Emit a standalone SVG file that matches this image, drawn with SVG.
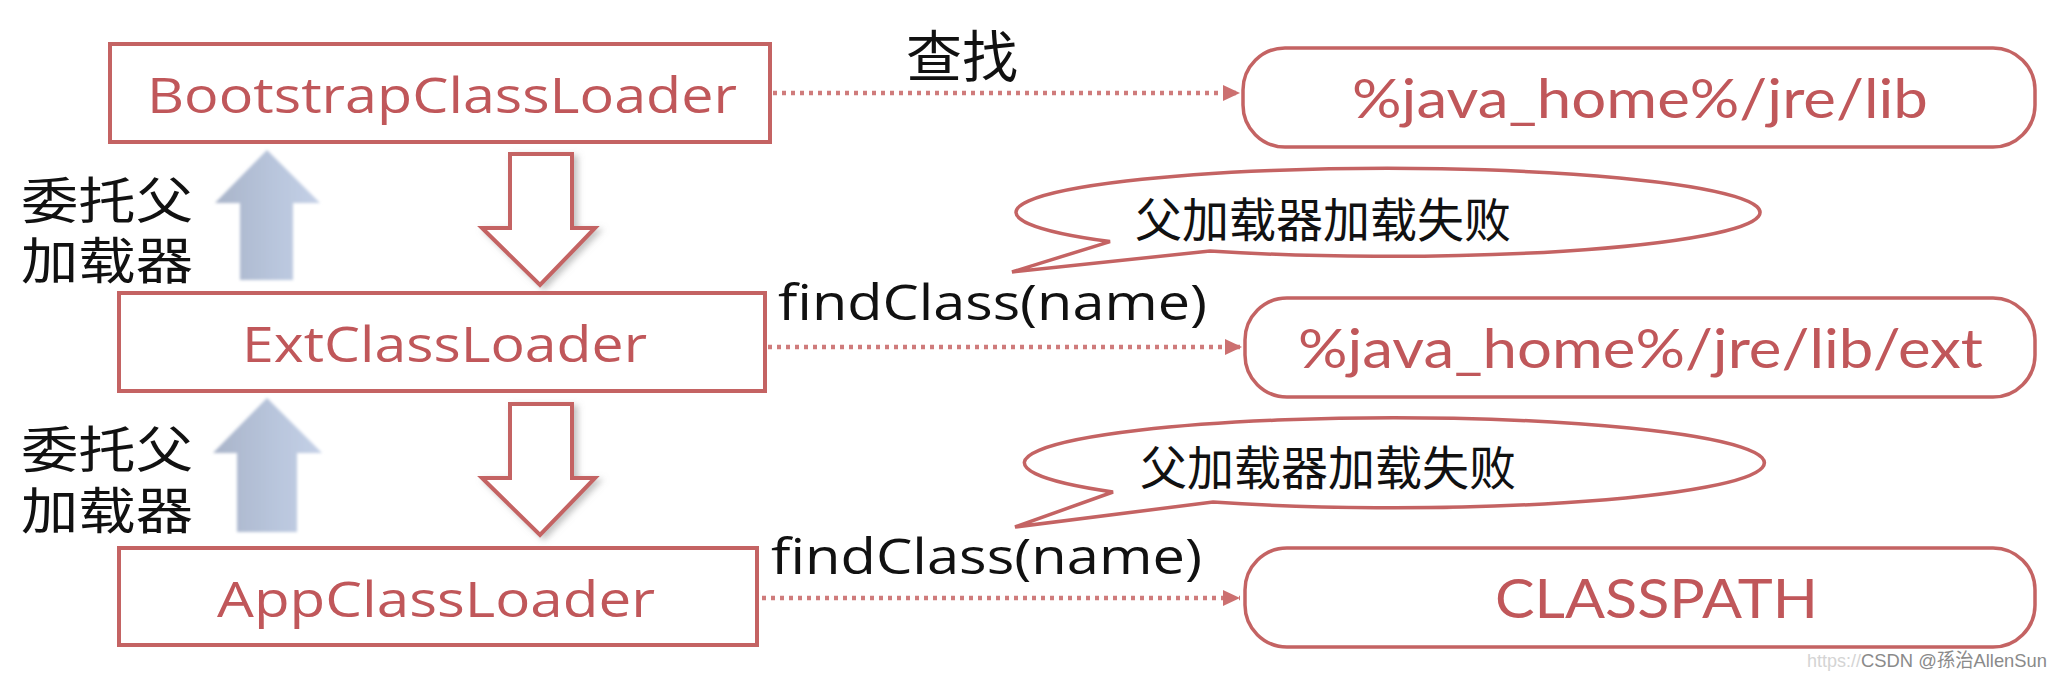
<svg xmlns="http://www.w3.org/2000/svg" width="2062" height="680" viewBox="0 0 2062 680">
<style>
.box{fill:#fff;stroke:#c46363;stroke-width:4}
.rbox{fill:#fff;stroke:#c46363;stroke-width:3.5}
.ltxt{font-family:"Open Sans","Noto Sans",sans-serif;font-size:50px;fill:#c0575a}
.rtxt{font-family:Lato,"Open Sans",sans-serif;font-size:54px;fill:#c0575a}
.blk{font-family:"Open Sans","Noto Sans",sans-serif;font-size:50px;fill:#111}
.cjk{font-family:"Noto Sans CJK SC",sans-serif;fill:#111}
.side{font-family:"Noto Sans CJK SC",sans-serif;fill:#111;font-size:50px}
.dot{stroke:#cf7b7b;stroke-width:4.5;stroke-dasharray:4 5;fill:none}
.bub{fill:#fff;stroke:#c46363;stroke-width:3.5;stroke-linejoin:miter}
.hollow{fill:#fff;stroke:#c46363;stroke-width:4;stroke-linejoin:miter}
.blue{fill:url(#bg)}
</style>
<defs>
<marker id="ah" markerUnits="userSpaceOnUse" markerWidth="18" markerHeight="18" refX="17" refY="8" orient="auto">
<path d="M0,0 L17,8 L0,16 z" fill="#cc7070"/>
</marker>
<linearGradient id="bg" x1="0" y1="0" x2="1" y2="0">
<stop offset="0" stop-color="#a9b4c9"/>
<stop offset="0.6" stop-color="#b9c6dd"/>
<stop offset="1" stop-color="#c4d0e6"/>
</linearGradient>
<filter id="soft" x="-20%" y="-20%" width="140%" height="140%">
<feGaussianBlur stdDeviation="1.5"/>
</filter>
<filter id="shd" x="-20%" y="-20%" width="150%" height="150%">
<feDropShadow dx="4" dy="3" stdDeviation="3" flood-color="#888" flood-opacity="0.5"/>
</filter>
</defs>
<rect width="2062" height="680" fill="#fff"/>

<g id="connectors">
<line class="dot" x1="773" y1="93" x2="1240" y2="93" marker-end="url(#ah)"/>
<line class="dot" x1="768" y1="347" x2="1242" y2="347" marker-end="url(#ah)"/>
<line class="dot" x1="762" y1="598" x2="1240" y2="598" marker-end="url(#ah)"/>
<polygon id="down1" class="hollow" filter="url(#shd)" points="510,154 572,154 572,228 595,228 540,285 482,228 510,228"/>
<polygon id="down2" class="hollow" filter="url(#shd)" points="510,404 572,404 572,478 595,478 540,535 482,478 510,478"/>
<polygon id="up1" class="blue" filter="url(#soft)" points="267,150 320,203 293,203 293,280 240,280 240,203 215,203"/>
<polygon id="up2" class="blue" filter="url(#soft)" points="267,398 322,453 297,453 297,532 237,532 237,453 213,453"/>
</g>

<g id="bootstrap">
<rect class="box" x="110" y="44" width="660" height="98"/>
<text class="ltxt" x="147" y="113" textLength="590" lengthAdjust="spacingAndGlyphs">BootstrapClassLoader</text>
</g>
<g id="ext">
<rect class="box" x="119" y="293" width="646" height="98"/>
<text class="ltxt" x="242" y="362" textLength="405" lengthAdjust="spacingAndGlyphs">ExtClassLoader</text>
</g>
<g id="app">
<rect class="box" x="119" y="548" width="638" height="97"/>
<text class="ltxt" x="217" y="617" textLength="438" lengthAdjust="spacingAndGlyphs">AppClassLoader</text>
</g>

<g id="jrelib">
<rect class="rbox" x="1243" y="48" width="792" height="99" rx="42" ry="42"/>
<text class="rtxt" x="1352" y="118" textLength="576" lengthAdjust="spacingAndGlyphs">%java_home%/jre/lib</text>
</g>
<g id="jreext">
<rect class="rbox" x="1245" y="298" width="790" height="99" rx="42" ry="42"/>
<text class="rtxt" x="1298" y="368" textLength="685" lengthAdjust="spacingAndGlyphs">%java_home%/jre/lib/ext</text>
</g>
<g id="classpath">
<rect class="rbox" x="1245" y="548" width="790" height="99" rx="42" ry="42"/>
<text class="rtxt" x="1495" y="618" textLength="323" lengthAdjust="spacingAndGlyphs">CLASSPATH</text>
</g>

<g id="bubble1">
<path class="bub" d="M1110,241.6 A372,44 0 1 1 1210,251 L1012,272 Z"/>
<text class="cjk" x="1135" y="237" font-size="47">父加载器加载失败</text>
</g>
<g id="bubble2">
<path class="bub" d="M1113,492 A370,45 0 1 1 1213,502 L1015,527 Z"/>
<text class="cjk" x="1140" y="485" font-size="47">父加载器加载失败</text>
</g>

<g id="labels">
<text class="cjk" x="906" y="77" font-size="56">查找</text>
<text class="blk" x="778" y="320" textLength="429" lengthAdjust="spacingAndGlyphs">findClass(name)</text>
<text class="blk" x="771" y="574" textLength="431" lengthAdjust="spacingAndGlyphs">findClass(name)</text>
<text class="side"><tspan x="21" y="219" textLength="172" lengthAdjust="spacingAndGlyphs">委托父</tspan><tspan x="21" y="279" textLength="172" lengthAdjust="spacingAndGlyphs">加载器</tspan></text>
<text class="side"><tspan x="21" y="468" textLength="172" lengthAdjust="spacingAndGlyphs">委托父</tspan><tspan x="21" y="529" textLength="172" lengthAdjust="spacingAndGlyphs">加载器</tspan></text>
</g>

<g id="watermark">
<text x="1807" y="667" font-family="'Liberation Sans',sans-serif" font-size="18" fill="#d4d4d4">https://</text>
<text x="1861" y="667" font-family="'Liberation Sans','Noto Sans CJK SC',sans-serif" font-size="19" fill="#8a8a8a" textLength="186" lengthAdjust="spacingAndGlyphs">CSDN @孫治AllenSun</text>
</g>
</svg>
